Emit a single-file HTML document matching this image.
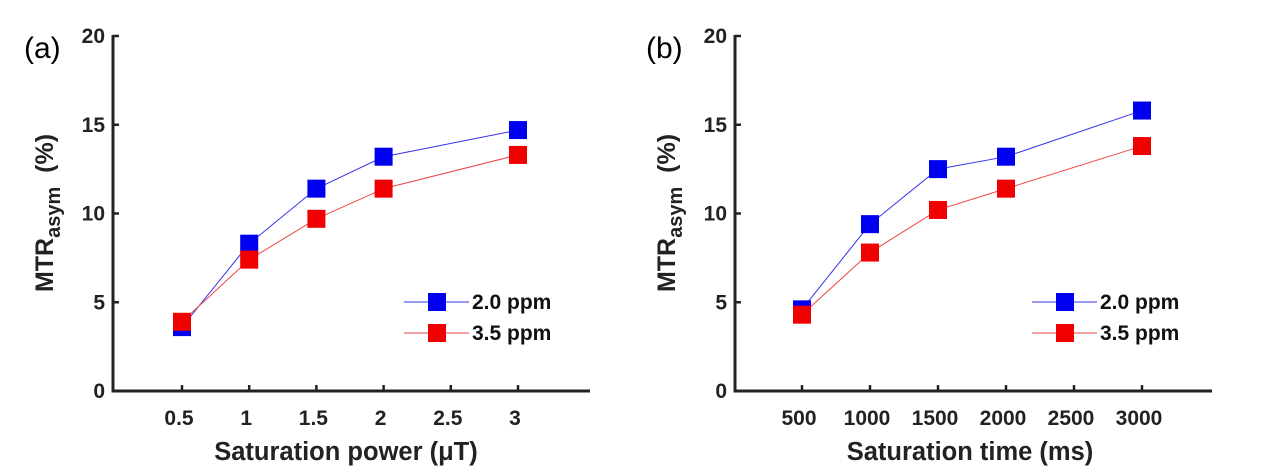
<!DOCTYPE html>
<html><head><meta charset="utf-8"><style>
html,body{margin:0;padding:0;background:#fff;width:1268px;height:467px;overflow:hidden}
svg text{font-family:"Liberation Sans",Arial,sans-serif}
</style></head><body>
<svg id="chart" width="1268" height="467" viewBox="0 0 1268 467" xmlns="http://www.w3.org/2000/svg"></svg>
<script>
const yTicks=[0,5,10,15,20];
const catsA=[0.5,1,1.5,2,2.5,3];
const catsALabels=["0.5","1","1.5","2","2.5","3"];
const xA=[0.5,1,1.5,2,3];
const blueA=[3.6,8.3,11.4,13.2,14.7];
const redA=[3.9,7.4,9.7,11.4,13.3];
const catsB=[500,1000,1500,2000,2500,3000];
const catsBLabels=["500","1000","1500","2000","2500","3000"];
const xB=[500,1000,1500,2000,3000];
const blueB=[4.6,9.4,12.5,13.2,15.8];
const redB=[4.3,7.8,10.2,11.4,13.8];
const seriesNames=["2.0 ppm","3.5 ppm"];

const NS="http://www.w3.org/2000/svg";
const svg=document.getElementById('chart');
function mk(tag,attrs,parent,text){const e=document.createElementNS(NS,tag);for(const k in attrs)e.setAttribute(k,attrs[k]);if(text!==undefined)e.textContent=text;(parent||svg).appendChild(e);return e;}

function panel(o){
  const g=mk('g',{});
  
  
  const y=v=>391-(v/20)*355;
  const x=v=>o.x0+(v-o.c0)/(o.c1-o.c0)*(o.x1-o.x0);
  const pl=mk('text',{x:o.ax-89,y:58,'font-size':30,fill:'#000'},g,o.label);
  
  
  const ya=mk('line',{x1:o.ax,y1:35,x2:o.ax,y2:392.5,stroke:'#222','stroke-width':3},g);
  
  
  const xa=mk('line',{x1:o.ax-1.5,y1:391,x2:o.axEnd,y2:391,stroke:'#222','stroke-width':3},g);
  
  
  yTicks.forEach(t=>{
    mk('line',{x1:o.ax,y1:y(t),x2:o.ax+6,y2:y(t),stroke:'#222','stroke-width':2.5},g);
    const tl=mk('text',{x:o.ax-8,y:y(t)+7,'font-size':21,'font-weight':'bold','text-anchor':'end',fill:'#222'},g,String(t));
    
    
  });
  o.cats.forEach((c,i)=>{
    mk('line',{x1:x(c),y1:391,x2:x(c),y2:385,stroke:'#222','stroke-width':2.5},g);
    const tl=mk('text',{x:x(c)-3,y:425,'font-size':21,'font-weight':'bold','text-anchor':'middle',fill:'#222'},g,o.catLabels[i]);
    
    
  });
  const xt=mk('text',{x:o.xTitleX,y:460,'font-size':25.5,'font-weight':'bold','text-anchor':'middle',fill:'#222'},g,o.xTitle);
  
  
  const yt=mk('text',{transform:`translate(${o.ax-60},213) rotate(-90)`,'font-size':25,'font-weight':'bold','text-anchor':'middle',fill:'#222'},g);
  
  
  mk('tspan',{},yt,'MTR');
  mk('tspan',{dy:7,'font-size':20},yt,'asym');
  mk('tspan',{dy:-7},yt,'\u00a0 (%)');
  const ser=[[o.blue,'#0000f0','#3333ee'],[o.red,'#f00000','#ee4444']];
  ser.forEach((s,si)=>{
    const pts=o.xs.map((v,i)=>x(v)+','+y(s[0][i])).join(' ');
    const pl2=mk('polyline',{points:pts,fill:'none',stroke:s[2],'stroke-width':1},g);
    
    
  });
  ser.forEach((s,si)=>{
    o.xs.forEach((v,i)=>{
      const r=mk('rect',{x:x(v)-9,y:y(s[0][i])-9,width:18,height:18,fill:s[1]},g);
      
      
    });
  });
  ser.forEach((s,si)=>{
    const ly=302+si*31;
    const lg=mk('g',{},g);
    
    
    mk('line',{x1:o.legX,y1:ly,x2:o.legX+65,y2:ly,stroke:s[2],'stroke-width':1},lg);
    mk('rect',{x:o.legX+24,y:ly-9,width:18,height:18,fill:s[1]},lg);
    mk('text',{x:o.legX+68,y:ly+7,'font-size':21,'font-weight':'bold',fill:'#111'},lg,seriesNames[si]);
  });
}
panel({name:'panel-a',label:'(a)',ax:113,axEnd:590,x0:182,x1:518,c0:0.5,c1:3,cats:catsA,catLabels:catsALabels,xs:xA,blue:blueA,red:redA,legX:404,xTitle:'Saturation power (\u03bcT)',xTitleX:346});
panel({name:'panel-b',label:'(b)',ax:735,axEnd:1212,x0:802,x1:1142,c0:500,c1:3000,cats:catsB,catLabels:catsBLabels,xs:xB,blue:blueB,red:redB,legX:1032,xTitle:'Saturation time (ms)',xTitleX:970});
</script>
</body></html>
